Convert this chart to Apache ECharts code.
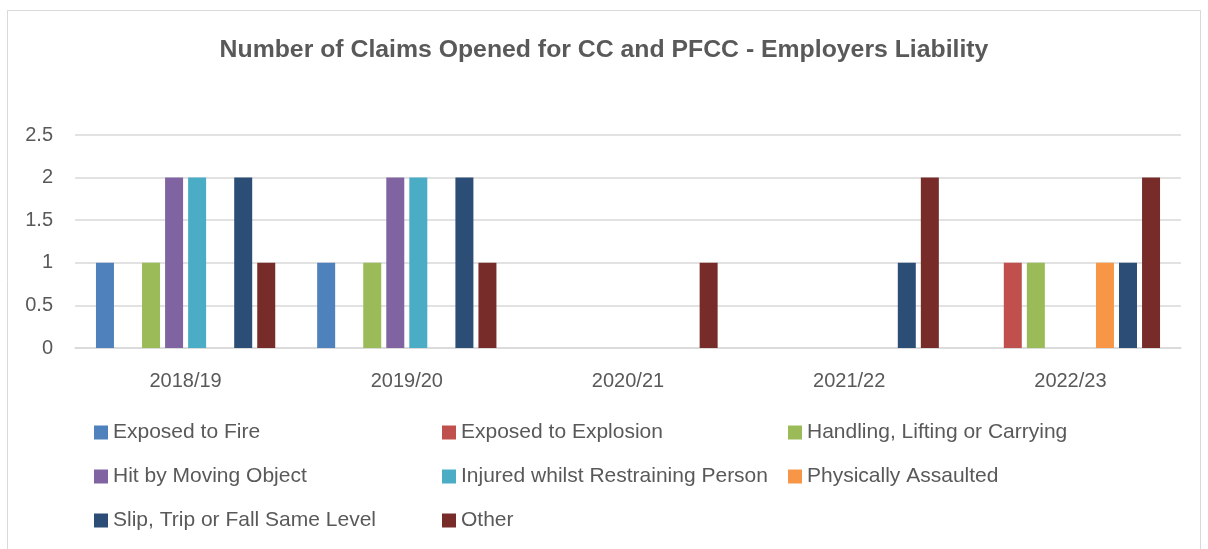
<!DOCTYPE html>
<html>
<head>
<meta charset="utf-8">
<script src="https://cdn.jsdelivr.net/npm/echarts@6/dist/echarts.min.js"></script>
<style>
html, body { margin: 0; padding: 0; background: #fff; }
#chart { width: 1208px; height: 549px; }
</style>
</head>
<body>
<div id="chart"></div>
<script>
// financial years
var years = ['2018/19', '2019/20', '2020/21', '2021/22', '2022/23'];

// claims by cause
var exposedFire = [1, 1, 0, 0, 0];
var exposedExplosion = [0, 0, 0, 0, 1];
var handling = [1, 1, 0, 0, 1];
var hitByObject = [2, 2, 0, 0, 0];
var restraining = [2, 2, 0, 0, 0];
var assaulted = [0, 0, 0, 0, 1];
var slipTrip = [2, 2, 0, 1, 1];
var other = [1, 1, 1, 2, 2];

var names = [
  'Exposed to Fire', 'Exposed to Explosion', 'Handling, Lifting or Carrying',
  'Hit by Moving Object', 'Injured whilst Restraining Person', 'Physically Assaulted',
  'Slip, Trip or Fall Same Level', 'Other'
];
var values = [exposedFire, exposedExplosion, handling, hitByObject, restraining, assaulted, slipTrip, other];
var colors = ['#4F81BD', '#C0504D', '#9BBB59', '#8064A2', '#4BACC6', '#F79646', '#2C4D75', '#772C2A'];

var textColor = '#595959';
var font = 'Liberation Sans';

var myChart = echarts.init(document.getElementById('chart'));

var legendBase = {
  orient: 'vertical',
  top: 417,
  itemGap: 23,
  itemWidth: 14,
  itemHeight: 14,
  icon: 'rect',
  textStyle: { color: textColor, fontSize: 21, fontFamily: font }
};

var option = {
  animation: false,
  color: colors,
  title: {
    text: 'Number of Claims Opened for CC and PFCC - Employers Liability',
    left: 'center',
    top: 33,
    textStyle: { color: textColor, fontSize: 24.8, fontWeight: 'bold', fontFamily: font }
  },
  graphic: [{
    type: 'rect',
    shape: { x: 7.5, y: 10.5, width: 1193, height: 560 },
    style: { fill: 'none', stroke: '#d9d9d9', lineWidth: 1 }
  }],
  legend: [
    Object.assign({ left: 89, data: [names[0], names[3], names[6]] }, legendBase),
    Object.assign({ left: 437, data: [names[1], names[4], names[7]] }, legendBase),
    Object.assign({ left: 783, data: [names[2], names[5]] }, legendBase)
  ],
  grid: { left: 75, right: 27, top: 135, bottom: 201 },
  xAxis: {
    type: 'category',
    data: years,
    axisLine: { show: true, lineStyle: { color: '#d9d9d9', width: 1.5 } },
    axisTick: { show: false },
    axisLabel: { color: textColor, fontSize: 20, fontFamily: font, margin: 23 }
  },
  yAxis: {
    type: 'value',
    min: 0,
    max: 2.5,
    interval: 0.5,
    axisLine: { show: false },
    axisTick: { show: false },
    axisLabel: { color: textColor, fontSize: 20, fontFamily: font, margin: 22 },
    splitLine: { lineStyle: { color: '#d9d9d9', width: 1.5 } }
  },
  series: names.map(function (n, i) {
    return {
      name: n,
      type: 'bar',
      data: values[i],
      barWidth: 18,
      barGap: '28%'
    };
  })
};

option && myChart.setOption(option);
</script>
</body>
</html>
